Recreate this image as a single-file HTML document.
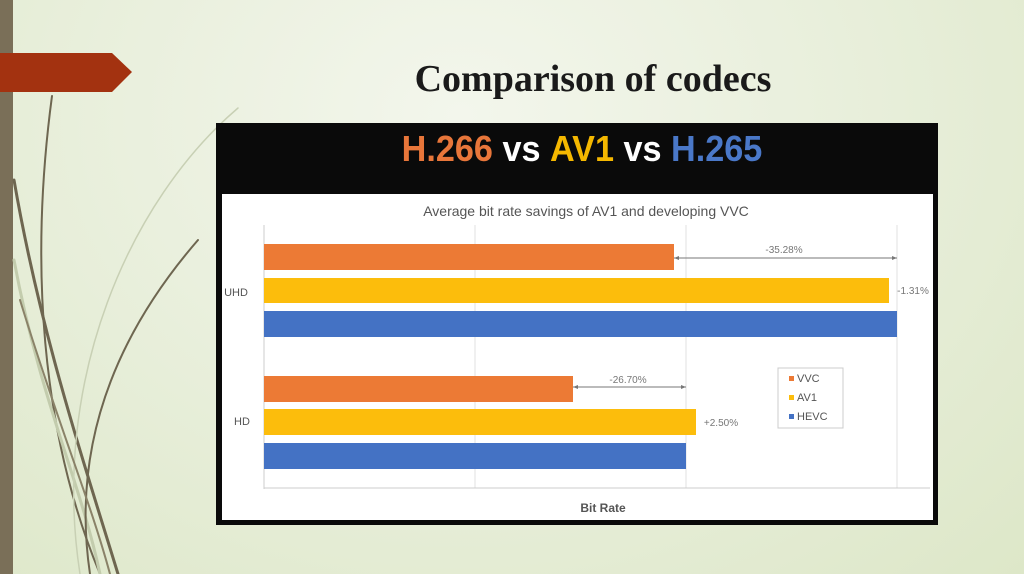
<!DOCTYPE html>
<html><head><meta charset="utf-8"><style>
html,body{margin:0;padding:0}
body{width:1024px;height:574px;overflow:hidden;position:relative;background:radial-gradient(ellipse at 45% 20%,#f3f6ec 0%,#e7eed9 55%,#dde7c8 100%);font-family:"Liberation Sans",sans-serif}
</style></head><body>
<svg width="1024" height="574" style="position:absolute;left:0;top:0" xmlns="http://www.w3.org/2000/svg">
<rect x="0" y="0" width="13" height="574" fill="#7a6f58"/>
<g fill="none" stroke-linecap="round">
<path d="M14 180 C40 330 80 450 118 574" stroke="#6e6650" stroke-width="3"/>
<path d="M52 96 C30 260 40 430 100 574" stroke="#6e6650" stroke-width="2"/>
<path d="M14 260 C40 400 80 480 100 574" stroke="#c3ccad" stroke-width="3"/>
<path d="M238 108 C130 200 50 380 80 574" stroke="#c8d0b4" stroke-width="1.5"/>
<path d="M198 240 C120 330 70 440 90 574" stroke="#6e6650" stroke-width="2"/>
<path d="M20 300 C60 430 90 500 110 574" stroke="#8a8268" stroke-width="2"/>
</g>
<polygon points="0,53 112,53 132,72 112,92 0,92" fill="#a33210"/>
<text x="593" y="91" text-anchor="middle" font-family="Liberation Serif,serif" font-weight="bold" font-size="38" fill="#1a1a1a">Comparison of codecs</text>
<rect x="216" y="123" width="722" height="402" fill="#0a0a0a"/>
<rect x="222" y="194" width="711" height="326" fill="#fff"/>
<text x="582" y="161" text-anchor="middle" font-weight="bold" font-size="36" transform="translate(582 0) scale(0.95 1) translate(-582 0)"><tspan fill="#e8763a">H.266</tspan><tspan fill="#fff"> vs </tspan><tspan fill="#f5b800">AV1</tspan><tspan fill="#fff">  vs </tspan><tspan fill="#4a78c8">H.265</tspan></text>
<text x="586" y="216" text-anchor="middle" font-size="14" fill="#555">Average bit rate savings of AV1 and developing VVC</text>
<g stroke="#e2e2e2" stroke-width="1"><line x1="475" y1="225" x2="475" y2="488"/><line x1="686" y1="225" x2="686" y2="488"/><line x1="897" y1="225" x2="897" y2="488"/></g>
<line x1="264" y1="225" x2="264" y2="489" stroke="#ccc"/>
<line x1="264" y1="488" x2="930" y2="488" stroke="#ccc"/>
<rect x="264" y="244" width="410" height="26" fill="#ec7a35"/>
<rect x="264" y="278" width="625" height="25" fill="#fcbd0c"/>
<rect x="264" y="311" width="633" height="26" fill="#4472c4"/>
<rect x="264" y="376" width="309" height="26" fill="#ec7a35"/>
<rect x="264" y="409" width="432" height="26" fill="#fcbd0c"/>
<rect x="264" y="443" width="422" height="26" fill="#4472c4"/>
<g stroke="#777" stroke-width="1"><line x1="674" y1="258" x2="897" y2="258"/><line x1="573" y1="387" x2="686" y2="387"/></g>
<g fill="#777"><polygon points="674,258 679,256 679,260"/><polygon points="897,258 892,256 892,260"/><polygon points="573,387 578,385 578,389"/><polygon points="686,387 681,385 681,389"/></g>
<g font-size="10" fill="#777"><text x="784" y="253" text-anchor="middle">-35.28%</text><text x="913" y="294" text-anchor="middle">-1.31%</text><text x="628" y="383" text-anchor="middle">-26.70%</text><text x="721" y="426" text-anchor="middle">+2.50%</text></g>
<g font-size="11" fill="#555"><text x="236" y="296" text-anchor="middle">UHD</text><text x="242" y="425" text-anchor="middle">HD</text><text x="603" y="512" text-anchor="middle" font-weight="bold" font-size="12">Bit Rate</text></g>
<rect x="778" y="368" width="65" height="60" fill="#fff" stroke="#ccc"/>
<rect x="789" y="376" width="5" height="5" fill="#ec7a35"/><text x="797" y="382" font-size="11" fill="#555">VVC</text>
<rect x="789" y="395" width="5" height="5" fill="#fcbd0c"/><text x="797" y="401" font-size="11" fill="#555">AV1</text>
<rect x="789" y="414" width="5" height="5" fill="#4472c4"/><text x="797" y="420" font-size="11" fill="#555">HEVC</text>
</svg>
</body></html>
